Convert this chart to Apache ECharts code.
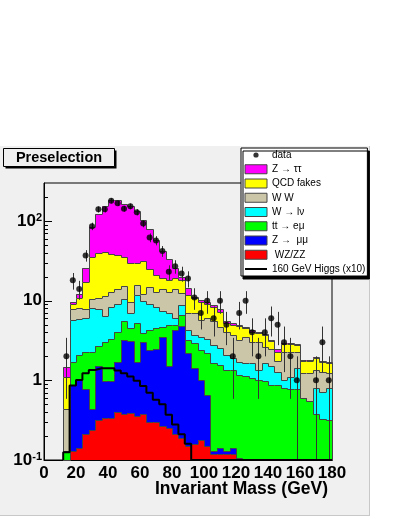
<!DOCTYPE html>
<html>
<head>
<meta charset="utf-8">
<script src="https://cdn.jsdelivr.net/npm/echarts@6/dist/echarts.min.js"></script>
<style>
  html, body { margin: 0; padding: 0; background: #fff; }
  #chart { width: 399px; height: 516px; }
</style>
</head>
<body>
<div id="chart"></div>
<script>
// 4 GeV bins, 12 -> 180 GeV
const binEdges = [12, 16, 20, 24, 28, 32, 36, 40, 44, 48, 52, 56, 60, 64, 68, 72, 76, 80, 84, 88, 92,
  96, 100, 104, 108, 112, 116, 120, 124, 128, 132, 136, 140, 144, 148, 152, 156, 160, 164, 168, 172, 176, 180];

// observed events per bin
const dataCounts = [2, 18, 14, 37, 86, 140, 140, 180, 167, 143, 153, 129, 93, 62, 57, 42, 23, 27, 22, 19,
  11, 7, 10, 6, 10, 5, 2, 7, 10, 4, 2, 4, 6, 5, 3, 2, 1, 0, 0, 1, 3, 1];

// backgrounds, one array per process (events per bin)
const wzzz = [0, 0.13, 0.14, 0.21, 0.24, 0.32, 0.34, 0.34, 0.40, 0.38, 0.39, 0.36, 0.38, 0.30, 0.30, 0.27,
  0.25, 0.21, 0.19, 0.15, 0.16, 0.18, 0.15, 0.12, 0.12, 0.12, 0.12, 0, 0, 0, 0, 0, 0, 0, 0, 0, 0, 0, 0, 0, 0, 0];
const zmumu = [0, 0.75, 0.86, 0.56, 0.20, 1.18, 0.63, 0.64, 1.31, 2.82, 2.71, 1.34, 2.62, 2.1, 2.2, 3.23,
  1.25, 4.09, 4.61, 2.05, 1.25, 0.82, 0.5, 0.01, 0.02, 0.01, 0.02, 0.105, 0, 0, 0, 0, 0, 0, 0, 0, 0, 0, 0, 0, 0, 0];
const ttbar = [0.128, 0.84, 1.09, 1.48, 1.86, 1.2, 2.03, 2.33, 2.3, 2.3, 1.4, 3.6, 0.9, 1.9, 2.0, 1.2,
  3.5, 0.7, 1.8, 1.0, 1.53, 1.4, 1.54, 1.51, 1.42, 1.23, 1.22, 1.07, 1.12, 1.07, 1.01, 0.97, 0.88, 0.88,
  0.8, 0.77, 0.77, 0.6, 0.55, 0.38, 0.33, 0.32];
const wjets = [0, 4.08, 3.81, 3.85, 5.7, 5.1, 3.5, 5.1, 5.0, 5.0, 2.5, 6.5, 6.1, 4.8, 3.9, 2.7, 2.0, 1.0,
  2.1, 1.1, 0.77, 1.15, 1.11, 1.14, 0.97, 0.73, 0.54, 0.53, 0.53, 0.57, 0.35, 0.67, 0.62, 0.41, 0.21,
  0.33, 0.65, 0, 0, 0.42, 0.39, 0.48];
const ww = [0.31, 2.0, 2.3, 1.7, 2.5, 3.0, 5.0, 4.4, 5.0, 5.0, 2.5, 4.0, 2.0, 5.9, 4.6, 6.6, 6.0, 8.0,
  3.7, 2.7, 3.3, 2.15, 2.7, 2.72, 2.17, 2.0, 1.8, 1.5, 1.85, 1.43, 1.64, 1.01, 0.96, 0.48, 1.29, 1.2,
  0.88, 0.63, 0.68, 0.56, 0.57, 0.45];
const qcd = [0.66, 1.3, 2.5, 9.2, 24.5, 29.2, 29.5, 26.2, 23.5, 20, 20, 14.2, 19.5, 10, 8, 5, 5.2, 5,
  5.8, 4.8, 3.7, 4.0, 3.1, 2.9, 2.6, 1.2, 1.3, 1.6, 1.0, 1.03, 0.9, 1.05, 0.69, 0.53, 0.55, 0.55, 0.5,
  0.53, 0.54, 0.56, 0.43, 0.42];
const ztautau = [0.38, 0.6, 1.3, 9, 49, 82, 112, 143, 144, 128, 125, 105, 70, 54, 37, 23, 15, 7, 1.8,
  2.5, 0.5, 0.6, 0.4, 0.4, 0.5, 0.3, 0.3, 0.2, 0.2, 0.2, 0.1, 0.1, 0.1, 0.15, 0.07, 0.07, 0.06, 0.03,
  0.03, 0.03, 0.03, 0.03];

// 160 GeV Higgs signal, scaled x10
const higgs = [0.125, 0.86, 1.01, 1.23, 1.35, 1.42, 1.42, 1.42, 1.33, 1.23, 1.12, 0.99, 0.85, 0.70, 0.57,
  0.5, 0.37, 0.28, 0.21, 0.16, 0, 0, 0, 0, 0, 0, 0, 0, 0, 0, 0, 0, 0, 0, 0, 0, 0, 0, 0, 0, 0, 0];

// stack, bottom first
const stackSeries = [wzzz, zmumu, ttbar, wjets, ww, qcd, ztautau];
const stackNames = [' WZ/ZZ', 'Z \u2192  \u03bc\u03bc', 'tt \u2192 e\u03bc', 'W \u2192 l\u03bd', 'W W', 'QCD fakes', 'Z \u2192 \u03c4\u03c4'];
const stackColors = ['#ff0000', '#0000ff', '#00ff00', '#00ffff', '#ccc6a8', '#ffff00', '#ff00ff'];

const xTickLabels = [0, 20, 40, 60, 80, 100, 120, 140, 160, 180];
const yMajorTicks = [0.1, 1, 10, 100];
const yMinorTicks = [0.2, 0.3, 0.4, 0.5, 0.6, 0.7, 0.8, 0.9, 2, 3, 4, 5, 6, 7, 8, 9,
  20, 30, 40, 50, 60, 70, 80, 90, 200];

const YMIN = 0.1, YMAX = 300;
const FONT = 'Liberation Sans';
const EDGE = '#454545';

const chart = echarts.init(document.getElementById('chart'));

// cumulative sums for the stack
const cumulative = [];
stackSeries.forEach((arr, j) => {
  cumulative.push(arr.map((v, i) => v + (j > 0 ? cumulative[j - 1][i] : 0)));
});

function renderStep(params, api) {
  const lo = api.value(0), hi = api.value(1);
  const top = Math.max(api.value(2), YMIN);
  const prev = Math.max(api.value(3), YMIN);
  const x0 = Math.round(api.coord([lo, YMIN])[0]);
  const x1 = Math.round(api.coord([hi, YMIN])[0]);
  const yb = Math.round(api.coord([lo, YMIN])[1]);
  const yt = Math.round(api.coord([lo, top])[1]);
  const yp = Math.round(api.coord([lo, prev])[1]);
  const children = [];
  if (yb > yt) {
    children.push({
      type: 'rect',
      shape: { x: x0, y: yt, width: x1 - x0, height: yb - yt },
      style: { fill: api.visual('color') }
    });
  }
  const pts = [[x0 + 0.5, yp + 0.5], [x0 + 0.5, yt + 0.5], [x1 + 0.5, yt + 0.5]];
  if (params.dataIndex === params.dataInsideLength - 1) pts.push([x1 + 0.5, yb + 0.5]);
  children.push({
    type: 'polyline',
    shape: { points: pts },
    style: { stroke: EDGE, lineWidth: 1, fill: null }
  });
  return { type: 'group', children: children };
}

const series = [];
// draw the full cumulative first (top of stack), then cover it layer by layer
for (let j = stackSeries.length - 1; j >= 0; j--) {
  const cum = cumulative[j];
  series.push({
    name: stackNames[j],
    type: 'custom',
    renderItem: renderStep,
    itemStyle: { color: stackColors[j] },
    silent: true,
    encode: { x: [0, 1], y: 2 },
    data: cum.map((v, i) => [binEdges[i], binEdges[i + 1], v, i > 0 ? cum[i - 1] : 0])
  });
}

// Higgs x10 step line
const higgsPts = [[binEdges[0], YMIN]];
higgs.forEach((v, i) => higgsPts.push([binEdges[i], Math.max(v, YMIN)]));
higgsPts.push([binEdges[binEdges.length - 1], Math.max(higgs[higgs.length - 1], YMIN)]);
series.push({
  name: '160 GeV Higgs (x10)',
  type: 'line',
  step: 'end',
  symbol: 'none',
  silent: true,
  lineStyle: { color: '#000', width: 2 },
  itemStyle: { color: '#000' },
  data: higgsPts
});

// data points with sqrt(N) error bars
const dataPts = [];
dataCounts.forEach((n, i) => {
  if (n > 0) dataPts.push([(binEdges[i] + binEdges[i + 1]) / 2, n]);
});
series.push({
  name: 'errors',
  type: 'custom',
  silent: true,
  renderItem: function (params, api) {
    const x = api.value(0), n = api.value(1);
    const e = Math.sqrt(n);
    const pTop = api.coord([x, n + e]);
    const pBot = api.coord([x, Math.max(n - e, YMIN)]);
    const xs = Math.round(pTop[0]) + 0.5;
    return {
      type: 'line',
      shape: { x1: xs, y1: pTop[1], x2: xs, y2: pBot[1] },
      style: { stroke: '#333', lineWidth: 1 }
    };
  },
  data: dataPts
});
series.push({
  name: 'data',
  type: 'scatter',
  symbol: 'circle',
  symbolSize: 6,
  silent: true,
  itemStyle: { color: '#000' },
  data: dataPts
});

// y axis ticks drawn inside the frame, ROOT style: [x, value, length]
const yTicks = yMajorTicks.map(v => [0, v, 8]).concat(yMinorTicks.map(v => [0, v, 4]));
series.push({
  name: 'yticks',
  type: 'custom',
  silent: true,
  renderItem: function (params, api) {
    const p = api.coord([api.value(0), api.value(1)]);
    const y = Math.round(p[1]) + 0.5;
    return {
      type: 'line',
      shape: { x1: p[0], y1: y, x2: p[0] + api.value(2), y2: y },
      style: { stroke: '#000', lineWidth: 1 }
    };
  },
  data: yTicks
});

const legendData = [
  { name: 'data', icon: 'path://M0,0M22,9M13.6,4.5A2.6,2.6,0,1,1,8.4,4.5A2.6,2.6,0,1,1,13.6,4.5Z',
    itemStyle: { color: '#000', borderWidth: 0 } }
];
for (let j = stackSeries.length - 1; j >= 0; j--) legendData.push({ name: stackNames[j] });
legendData.push({ name: '160 GeV Higgs (x10)', icon: 'path://M0,0M22,9M0,3.5H22V5.5H0Z',
  itemStyle: { color: '#000', borderWidth: 0 } });

const supLabels = { '-1': '{b|10}{s|-1}', '0': '{b|1}', '1': '{b|10}', '2': '{b|10}{s|2}' };

const option = {
  animation: false,
  backgroundColor: '#fff',
  textStyle: { fontFamily: FONT },
  graphic: [
    { type: 'rect', z: -10, shape: { x: 0, y: 146, width: 369, height: 370 }, style: { fill: '#f0f0f0' } },
    { type: 'line', z: -9, shape: { x1: 369.5, y1: 146, x2: 369.5, y2: 516 }, style: { stroke: '#c8c8c8', lineWidth: 1 } },
    { type: 'line', z: -9, shape: { x1: 0, y1: 515.5, x2: 370, y2: 515.5 }, style: { stroke: '#c8c8c8', lineWidth: 1 } },
    { type: 'rect', shape: { x: 5.5, y: 150.5, width: 111, height: 18 }, style: { fill: '#000' } },
    { type: 'rect', shape: { x: 3.5, y: 148.5, width: 111, height: 18 }, style: { fill: '#f0f0f0', stroke: '#000', lineWidth: 1 } },
    { type: 'text', x: 59, y: 158, style: { text: 'Preselection', font: 'bold 14.5px "Liberation Sans"',
      align: 'center', verticalAlign: 'middle', fill: '#000' } },
    { type: 'text', x: 328, y: 489, style: { text: 'Invariant Mass (GeV)', font: 'bold 17.5px "Liberation Sans"',
      align: 'right', verticalAlign: 'middle', fill: '#000' } }
  ],
  grid: {
    left: 44, top: 183, width: 288, height: 277,
    outerBoundsMode: 'none', containLabel: false,
    show: true, borderColor: '#000', borderWidth: 1, backgroundColor: 'transparent'
  },
  legend: {
    orient: 'vertical',
    left: 241, top: 148,
    itemWidth: 22, itemHeight: 9, itemGap: 0.25,
    padding: [0, 2, 0, 3.5],
    icon: 'rect',
    backgroundColor: '#fff', borderColor: '#000', borderWidth: 1,
    shadowColor: '#000', shadowBlur: 0, shadowOffsetX: 2, shadowOffsetY: 3,
    selectedMode: false,
    itemStyle: { borderColor: EDGE, borderWidth: 1 },
    textStyle: { fontSize: 10, lineHeight: 14, color: '#000', fontFamily: FONT },
    data: legendData
  },
  xAxis: {
    type: 'value', min: 0, max: 180, interval: 20,
    axisLine: { show: true, lineStyle: { color: '#000', width: 1 } },
    axisTick: { show: false },
    splitLine: { show: false },
    axisLabel: {
      color: '#000', fontSize: 17, fontWeight: 'bold', margin: 5,
      formatter: v => xTickLabels.indexOf(v) >= 0 ? String(v) : ''
    }
  },
  yAxis: {
    type: 'log', logBase: 10, min: YMIN, max: YMAX,
    axisLine: { show: true, lineStyle: { color: '#000', width: 1 } },
    axisTick: { show: false },
    splitLine: { show: false },
    axisLabel: {
      margin: 2, showMaxLabel: false, color: '#000',
      formatter: v => supLabels[String(Math.round(Math.log10(v)))] || '',
      rich: {
        b: { fontSize: 17, fontWeight: 'bold', color: '#000', fontFamily: FONT },
        s: { fontSize: 11, fontWeight: 'bold', color: '#000', fontFamily: FONT, verticalAlign: 'top' }
      }
    }
  },
  series: series
};

chart.setOption(option);
</script>
</body>
</html>
